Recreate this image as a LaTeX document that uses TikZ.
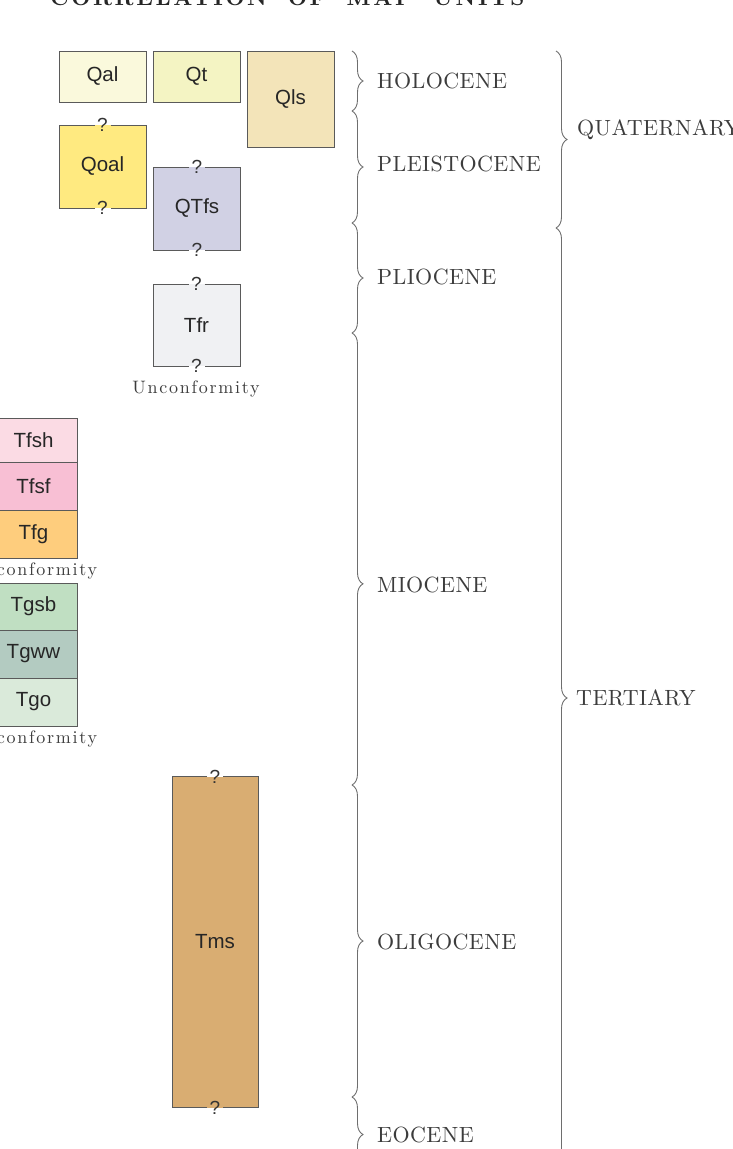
\documentclass[tikz,border=0pt]{standalone}
\usepackage{fontspec}
\setsansfont{Liberation Sans}
\newfontfamily\spacedserif{lmroman10-regular.otf}[LetterSpace=2]
\newfontfamily\notesserif{lmroman10-regular.otf}[LetterSpace=9.8]
\newfontfamily\titleserif{lmroman10-bold.otf}[LetterSpace=12]
\usetikzlibrary{positioning,decorations.pathreplacing}

\definecolor{edgegray}{HTML}{5A5A5A}
\definecolor{bracegray}{HTML}{6E6E6E}
\definecolor{textgray}{HTML}{3C3C3C}
\definecolor{cQal}{HTML}{FAF9DC}
\definecolor{cQt}{HTML}{F4F4C3}
\definecolor{cQls}{HTML}{F3E4B9}
\definecolor{cQoal}{HTML}{FFEA80}
\definecolor{cQTfs}{HTML}{D1D1E4}
\definecolor{cTfr}{HTML}{F0F1F3}
\definecolor{cTfsh}{HTML}{FBDBE4}
\definecolor{cTfsf}{HTML}{F8BFD4}
\definecolor{cTfg}{HTML}{FECD7D}
\definecolor{cTgsb}{HTML}{C0DFC2}
\definecolor{cTgww}{HTML}{B3CBC1}
\definecolor{cTgo}{HTML}{DAEADA}
\definecolor{cTms}{HTML}{D9AD72}

\newcommand{\querybox}[1]{%
  \draw[boxedge] ([xshift=-8pt]#1.north) -- (#1.north west) -- (#1.south west) -- ([xshift=-8pt]#1.south);
  \draw[boxedge] ([xshift=8pt]#1.north) -- (#1.north east) -- (#1.south east) -- ([xshift=8pt]#1.south);
  \node[query] at (#1.north) {?};
  \node[query] at (#1.south) {?};
}

\begin{document}
\begin{tikzpicture}[x=1pt,y=-1pt]
	\tikzset{
		unit/.style={draw=edgegray, line width=0.9pt, minimum width=87pt, inner sep=0pt, outer sep=0pt,
			font=\sffamily\fontsize{20.5}{20.5}\selectfont, text=black!85},
		openunit/.style={unit, draw=none},
		boxedge/.style={draw=edgegray, line width=0.9pt},
		query/.style={font=\sffamily\fontsize{19}{19}\selectfont, text=black!80, inner sep=0pt},
		note/.style={font=\notesserif\fontsize{18}{18}\selectfont, text=textgray, inner sep=0pt},
		period/.style={anchor=west, font=\spacedserif\fontsize{22}{22}\selectfont, text=textgray, inner sep=0pt},
		brace/.style={decorate, decoration={brace, amplitude=11pt}, draw=bracegray, line width=0.9pt},
	}
	\useasboundingbox (0,0) rectangle (733,1149);
	
	\node (title) at (287.5,5) [anchor=base, font=\titleserif\fontsize{22}{22}\selectfont, text=black!85]
		{CORRELATION\hspace{10pt} OF\hspace{10pt} MAP\hspace{10pt} UNITS};
	
	\node (Qal) at (102.5,76.5) [unit, fill=cQal, minimum height=51pt] {Qal};
	\node (Qt) at (196.5,76.5) [unit, fill=cQt, minimum height=51pt] {Qt};
	\node (Qls) at (290.5,99) [unit, fill=cQls, minimum height=96pt] {Qls};
	\node (Qoal) at (102.5,166.5) [openunit, fill=cQoal, minimum height=83pt] {Qoal};
	\node (QTfs) at (197,208.5) [openunit, fill=cQTfs, minimum height=83pt] {QTfs};
	\node (Tfr) at (196.5,325) [openunit, fill=cTfr, minimum height=82pt] {Tfr};
	\node (Tms) at (215,942) [openunit, fill=cTms, minimum width=86pt, minimum height=331pt] {Tms};
	\querybox{Qoal}
	\querybox{QTfs}
	\querybox{Tfr}
	\querybox{Tms}
	\node (uncTfr) at (196,393) [note, anchor=base] {Unconformity};
	
	\node (Tfsh) at (33.5,440) [unit, fill=cTfsh, minimum height=44pt] {Tfsh};
	\node (Tfsf) [unit, fill=cTfsf, minimum height=48pt, below=0pt of Tfsh] {Tfsf};
	\node (Tfg) [unit, fill=cTfg, minimum height=48pt, below=0pt of Tfsf] {Tfg};
	\node (uncTfg) at (33.5,575) [note, anchor=base] {Unconformity};
	\node (Tgsb) at (33.5,606.5) [unit, fill=cTgsb, minimum height=47pt] {Tgsb};
	\node (Tgww) [unit, fill=cTgww, minimum height=48pt, below=0pt of Tgsb] {Tgww};
	\node (Tgo) [unit, fill=cTgo, minimum height=48pt, below=0pt of Tgww] {Tgo};
	\node (uncTgo) at (33.5,743) [note, anchor=base] {Unconformity};
	
	\coordinate (e0) at (352,51);
	\coordinate (e1) at (352,111);
	\coordinate (e2) at (352,223);
	\coordinate (e3) at (352,333);
	\coordinate (e4) at (352,785);
	\coordinate (e5) at (352,1097);
	\coordinate (e6) at (352,1172);
	\coordinate (p0) at (556,51);
	\coordinate (p1) at (556,228);
	\coordinate (p2) at (556,1168);
	
	\draw[brace] (e0) -- (e1);
	\draw[brace] (e1) -- (e2);
	\draw[brace] (e2) -- (e3);
	\draw[brace, decoration={aspect=0.555}] (e3) -- (e4);
	\draw[brace] (e4) -- (e5);
	\draw[brace] (e5) -- (e6);
	\draw[brace] (p0) -- (p1);
	\draw[brace] (p1) -- (p2);
	
	\node (holo) at (377,81) [period] {HOLOCENE};
	\node (pleist) at (377,164) [period] {PLEISTOCENE};
	\node (plio) at (377,277) [period] {PLIOCENE};
	\node (mio) at (377,585) [period] {MIOCENE};
	\node (oligo) at (377,942) [period] {OLIGOCENE};
	\node (eoc) at (377,1135) [period] {EOCENE};
	\node (quat) at (577,130) [period] {QUATERNARY};
	\node (tert) at (576,698) [period] {TERTIARY};
\end{tikzpicture}
\end{document}
